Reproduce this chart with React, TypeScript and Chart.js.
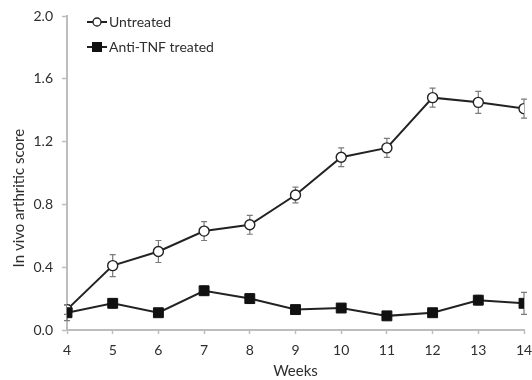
import React, { useEffect, useRef } from "react";
import { Chart, registerables } from "chart.js";

Chart.register(...registerables);

const weeks = [4, 5, 6, 7, 8, 9, 10, 11, 12, 13, 14];
const untreated = [0.13, 0.41, 0.50, 0.63, 0.67, 0.86, 1.10, 1.16, 1.48, 1.45, 1.41];
const untreatedErr = [0.03, 0.07, 0.07, 0.06, 0.06, 0.05, 0.06, 0.06, 0.06, 0.07, 0.06];
const antiTNF = [0.11, 0.17, 0.11, 0.25, 0.20, 0.13, 0.14, 0.09, 0.11, 0.19, 0.17];
const antiTNFErr = [0.05, 0.03, 0.02, 0.03, 0.03, 0.02, 0.02, 0.02, 0.02, 0.03, 0.07];
const seriesLabels = ["Untreated", "Anti-TNF treated"];
const xTitle = "Weeks";
const yTitle = "In vivo arthritic score";

const FONT = "Lato, 'Open Sans', sans-serif";
const TEXT = "#2e2e2e";
const AXIS = "#bdbdbd";

const errorBarPlugin = {
  id: "errorBars",
  beforeDatasetsDraw(chart: any) {
    const ctx = chart.ctx;
    const y = chart.scales.y;
    const errs = [untreatedErr, antiTNFErr];
    ctx.save();
    ctx.strokeStyle = "#7a7a7a";
    ctx.lineWidth = 1.2;
    chart.data.datasets.forEach((ds: any, i: number) => {
      const meta = chart.getDatasetMeta(i);
      meta.data.forEach((pt: any, j: number) => {
        const v = ds.data[j].y;
        const e = errs[i][j];
        const top = y.getPixelForValue(v + e);
        const bot = y.getPixelForValue(v - e);
        const x = pt.x;
        ctx.beginPath();
        ctx.moveTo(x, top);
        ctx.lineTo(x, bot);
        ctx.moveTo(x - 3, top);
        ctx.lineTo(x + 3, top);
        ctx.moveTo(x - 3, bot);
        ctx.lineTo(x + 3, bot);
        ctx.stroke();
      });
    });
    ctx.restore();
  },
};

const textPlugin = {
  id: "insideLegendAndTitle",
  afterDraw(chart: any) {
    const ctx = chart.ctx;
    const area = chart.chartArea;
    const x0 = area.left + 20;
    const rows = [area.top + 6, area.top + 31];
    ctx.save();
    rows.forEach((ry, i) => {
      ctx.strokeStyle = "#222";
      ctx.lineWidth = 2;
      ctx.beginPath();
      ctx.moveTo(x0, ry);
      ctx.lineTo(x0 + 20, ry);
      ctx.stroke();
      if (i === 0) {
        ctx.beginPath();
        ctx.arc(x0 + 10, ry, 4, 0, Math.PI * 2);
        ctx.fillStyle = "#fff";
        ctx.fill();
        ctx.lineWidth = 1.3;
        ctx.stroke();
      } else {
        ctx.fillStyle = "#111";
        ctx.fillRect(x0 + 5, ry - 5, 10, 10);
      }
      ctx.fillStyle = TEXT;
      ctx.font = `14px ${FONT}`;
      ctx.textBaseline = "middle";
      ctx.textAlign = "left";
      ctx.fillText(seriesLabels[i], x0 + 22, ry);
    });
    // y-axis title
    ctx.translate(19, area.top + (area.bottom - area.top) * 0.58);
    ctx.rotate(-Math.PI / 2);
    ctx.font = `15px ${FONT}`;
    ctx.textAlign = "center";
    ctx.textBaseline = "middle";
    ctx.fillStyle = TEXT;
    ctx.fillText(yTitle, 0, 0);
    ctx.restore();
  },
};

export default function App() {
  const ref = useRef<HTMLCanvasElement>(null);
  useEffect(() => {
    document.body.style.margin = "0";
    const chart = new Chart(ref.current!, {
      type: "line",
      data: {
        datasets: [
          {
            label: seriesLabels[0],
            data: weeks.map((w, i) => ({ x: w, y: untreated[i] })),
            borderColor: "#222",
            borderWidth: 2,
            pointStyle: "circle",
            pointRadius: 5,
            pointBorderWidth: 1.4,
            pointBackgroundColor: "#fff",
            pointBorderColor: "#222",
            order: 1,
          },
          {
            label: seriesLabels[1],
            data: weeks.map((w, i) => ({ x: w, y: antiTNF[i] })),
            borderColor: "#222",
            borderWidth: 2,
            pointStyle: "rect",
            pointRadius: 7,
            pointBorderWidth: 1,
            pointBackgroundColor: "#111",
            pointBorderColor: "#111",
            order: 0,
          },
        ],
      },
      options: {
        animation: false,
        responsive: false,
        layout: { padding: { top: 16, right: 6, left: 0, bottom: 0 } },
        plugins: { legend: { display: false }, tooltip: { enabled: false } },
        scales: {
          x: {
            type: "linear",
            min: 4,
            max: 14,
            afterFit: (s: any) => {
              s.height = 50;
              s.paddingRight = 0;
              s.paddingLeft = 0;
            },
            border: { color: AXIS, width: 2 },
            grid: { drawOnChartArea: false, color: AXIS, tickLength: 4, tickWidth: 1.5 },
            ticks: { stepSize: 1, padding: 8, color: TEXT, font: { family: FONT, size: 14 } },
            title: { display: true, text: xTitle, color: TEXT, font: { family: FONT, size: 15 }, padding: { top: 0, bottom: 0 } },
          },
          y: {
            min: 0,
            max: 2.0,
            afterFit: (s: any) => {
              s.width = 67;
              s.paddingTop = 0;
              s.paddingBottom = 0;
            },
            border: { color: AXIS, width: 2 },
            grid: { drawOnChartArea: false, color: AXIS, tickLength: 5, tickWidth: 1.5 },
            ticks: {
              stepSize: 0.4,
              padding: 9,
              color: TEXT,
              font: { family: FONT, size: 14 },
              callback: (v: any) => Number(v).toFixed(1),
            },
            title: { display: false },
          },
        },
      },
      plugins: [errorBarPlugin, textPlugin],
    });
    return () => chart.destroy();
  }, []);
  return <canvas ref={ref} width={532} height={380} style={{ display: "block" }} />;
}
